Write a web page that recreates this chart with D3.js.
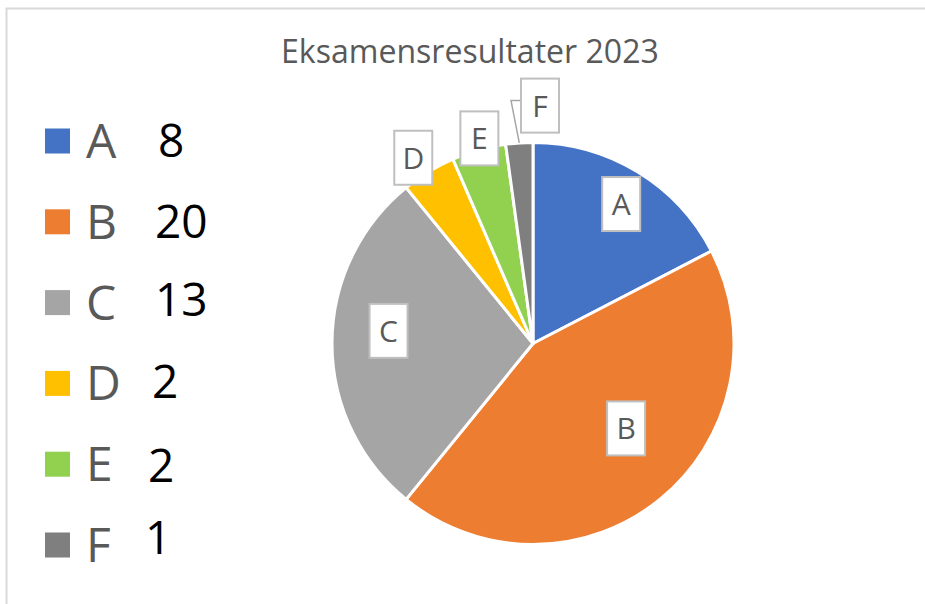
<!DOCTYPE html>
<html><head><meta charset="utf-8">
<script src="https://cdn.jsdelivr.net/npm/d3@7"></script>
<style>body{margin:0;background:#fff;} svg{display:block}</style>
</head><body>
<svg id="chart" width="925" height="604"></svg>
<script>
// ---- data ----
const title = "Eksamensresultater 2023";
const categories = ["A", "B", "C", "D", "E", "F"];
const values = [8, 20, 13, 2, 2, 1];
const colors = ["#4472c4", "#ed7d31", "#a5a5a5", "#ffc000", "#92d050", "#7f7f7f"];

// ---- layout ----
const W = 925, H = 604;
const cx = 533, cy = 343.5, R = 201;
const FONT = "'Open Sans', 'Noto Sans', sans-serif";
// label placement (distance from centre, angular offset in degrees from slice mid-angle)
const labelPlace = [{r:165,da:1},{r:126,da:-8.5},{r:145,da:5},{r:221,da:-1.5},{r:212,da:1},{r:238,da:5.6}];
const boxW = 38, boxH = 54;
const legendX = 45, legendY0 = 141, legendStep = 80.8, sw = 25;
const numberX = [158, 155, 155, 152, 148, 145];
const numberDy = [0, 0, -3, -1, 2, -7];

const svg = d3.select("#chart");

// frame
svg.append("path")
  .attr("d", `M${W + 5},8.5 L6.5,8.5 L6.5,${H + 5}`)
  .attr("fill", "none").attr("stroke", "#d9d9d9").attr("stroke-width", 2);

// title (fit to original width)
const t = svg.append("text")
  .attr("x", 281).attr("y", 63)
  .attr("font-family", FONT).attr("font-size", 28)
  .attr("fill", "#595959").text(title);
const tw = t.node().getComputedTextLength();
t.attr("font-size", 28 * 378 / tw);

// pie
const pie = d3.pie().sort(null).value(d => d);
const arcs = pie(values);
const arc = d3.arc().innerRadius(0).outerRadius(R);
const g = svg.append("g").attr("transform", `translate(${cx},${cy})`);
g.selectAll("path.slice").data(arcs).join("path")
  .attr("class", "slice")
  .attr("d", arc)
  .attr("fill", (d, i) => colors[i])
  .attr("stroke", "#fff").attr("stroke-width", 3).attr("stroke-linejoin", "round");

// labels
const deg = Math.PI / 180;
const lab = arcs.map((d, i) => {
  const a = (d.startAngle + d.endAngle) / 2 + labelPlace[i].da * deg;
  return { x: Math.sin(a) * labelPlace[i].r, y: -Math.cos(a) * labelPlace[i].r, d, i };
});

// leader line for small outside label F
lab.forEach(l => {
  if (l.i === 5) {
    const mid = (l.d.startAngle + l.d.endAngle) / 2;
    const px = Math.sin(mid) * R, py = -Math.cos(mid) * R;
    const bx = l.x - boxW / 2, by = l.y - boxH / 2 + 22;
    g.append("polyline")
      .attr("points", `${bx},${by} ${bx - 10},${by} ${px},${py}`)
      .attr("fill", "none").attr("stroke", "#a6a6a6").attr("stroke-width", 1.5);
  }
});

const lg = g.selectAll("g.lab").data(lab).join("g").attr("class", "lab")
  .attr("transform", l => `translate(${l.x},${l.y})`);
lg.append("rect")
  .attr("x", -boxW / 2).attr("y", -boxH / 2).attr("width", boxW).attr("height", boxH)
  .attr("fill", "#fff").attr("stroke", "#bfbfbf").attr("stroke-width", 2);
lg.append("text")
  .attr("text-anchor", "middle").attr("y", 11)
  .attr("font-family", FONT).attr("font-size", 30).attr("fill", "#595959")
  .text(l => categories[l.i]);

// legend
const leg = svg.append("g");
categories.forEach((c, i) => {
  const y = legendY0 + i * legendStep;
  leg.append("rect").attr("x", legendX).attr("y", y - sw / 2).attr("width", sw).attr("height", sw)
    .attr("fill", colors[i]);
  leg.append("text").attr("x", 86).attr("y", y + 17)
    .attr("font-family", FONT).attr("font-size", 48).attr("fill", "#595959").text(c);
  leg.append("text").attr("x", numberX[i]).attr("y", y + 16 + numberDy[i])
    .attr("font-family", FONT).attr("font-size", 46).attr("fill", "#000").text(values[i]);
});
</script>
</body></html>
